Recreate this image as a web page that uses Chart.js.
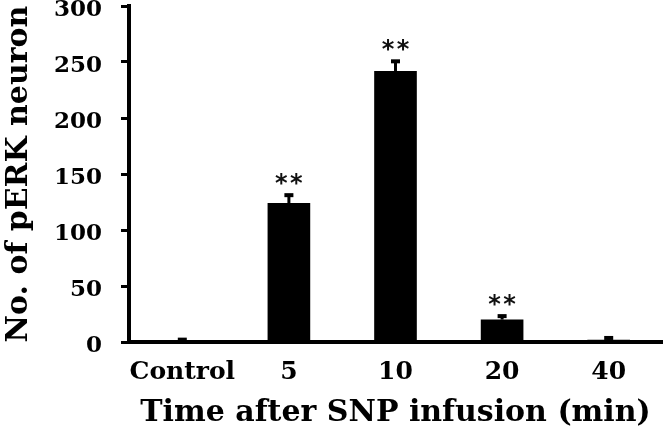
<!DOCTYPE html>
<html><head><meta charset="utf-8">
<script src="https://cdn.jsdelivr.net/npm/chart.js@4"></script>
<style>html,body{margin:0;padding:0;background:#fff;overflow:hidden}</style>
</head><body>
<canvas id="c" width="664" height="433" style="width:664px;height:433px;display:block"></canvas>
<script>
const categories = ['Control', '5', '10', '20', '40'];
const means = [1, 124, 242, 20, 2];
const errors = [2, 8, 9.5, 4, 2.5];
const significance = ['', '**', '**', '**', ''];
const yTickValues = [0, 50, 100, 150, 200, 250, 300];
const yTitle = 'No. of pERK neuron';
const xTitle = 'Time after SNP infusion (min)';

const SERIF = '"DejaVu Serif", "Liberation Serif", serif';

const errorPlugin = {
  id: 'errorbars',
  afterDatasetsDraw(chart) {
    const ctx = chart.ctx;
    const meta = chart.getDatasetMeta(0);
    const ys = chart.scales.y;
    ctx.save();
    meta.data.forEach((bar, i) => {
      const x = bar.x;
      const base = ys.getPixelForValue(means[i]);
      const top = ys.getPixelForValue(means[i] + errors[i]);
      ctx.strokeStyle = '#000';
      ctx.fillStyle = '#000';
      ctx.lineWidth = 3;
      ctx.beginPath();
      ctx.moveTo(x, base);
      ctx.lineTo(x, top);
      ctx.stroke();
      ctx.fillRect(x - 4.5, top - 1, 9, 4);
      if (significance[i]) {
        ctx.font = 'bold 24px "DejaVu Sans", sans-serif';
        ctx.textAlign = 'center';
        ctx.textBaseline = 'alphabetic';
        const m = ctx.measureText('*');
        const cy = top - 15;
        const by = cy + (m.actualBoundingBoxAscent - m.actualBoundingBoxDescent) / 2;
        ctx.fillStyle = '#111';
        ctx.fillText('*', x - 7.5, by);
        ctx.fillText('*', x + 7.5, by);
      }
    });
    ctx.restore();
  }
};

new Chart(document.getElementById('c'), {
  type: 'bar',
  data: {
    labels: categories,
    datasets: [{
      data: means,
      backgroundColor: '#000',
      borderWidth: 0,
      barPercentage: 0.4,
      categoryPercentage: 1.0
    }]
  },
  options: {
    responsive: false,
    animation: false,
    devicePixelRatio: 1,
    layout: { padding: { left: 0, right: 2, top: 6, bottom: 0 } },
    plugins: { legend: { display: false }, tooltip: { enabled: false } },
    scales: {
      x: {
        offset: true,
        grid: { display: false, drawTicks: false },
        border: { display: true, color: '#000', width: 4 },
        ticks: {
          color: '#000',
          font: { family: SERIF, weight: 'bold', size: 25 },
          padding: 15,
          maxRotation: 0,
          autoSkip: false
        },
        title: {
          display: true,
          text: xTitle,
          color: '#000',
          font: { family: SERIF, weight: 'bold', size: 30 },
          padding: { top: 0, bottom: 2 }
        },
        afterFit(scale) {
          scale.height = 91;
          scale.paddingLeft = 0;
          scale.paddingRight = 0;
        }
      },
      y: {
        min: 0,
        max: 300,
        afterBuildTicks(scale) { scale.ticks = yTickValues.map(v => ({ value: v })); },
        grid: {
          display: true,
          drawOnChartArea: false,
          drawTicks: true,
          tickLength: 8,
          tickWidth: 3,
          tickColor: '#000',
          color: '#000'
        },
        border: { display: true, color: '#000', width: 4 },
        ticks: {
          color: '#000',
          font: { family: SERIF, weight: 'bold', size: 23 },
          padding: 19,
          labelOffset: 4
        },
        title: {
          display: true,
          text: yTitle,
          color: '#000',
          font: { family: SERIF, weight: 'bold', size: 30 },
          padding: { top: 1, bottom: 0 }
        },
        afterFit(scale) {
          scale.width = 129;
          scale.paddingTop = 0;
          scale.paddingBottom = 0;
        }
      }
    }
  },
  plugins: [errorPlugin]
});
</script>
</body></html>
